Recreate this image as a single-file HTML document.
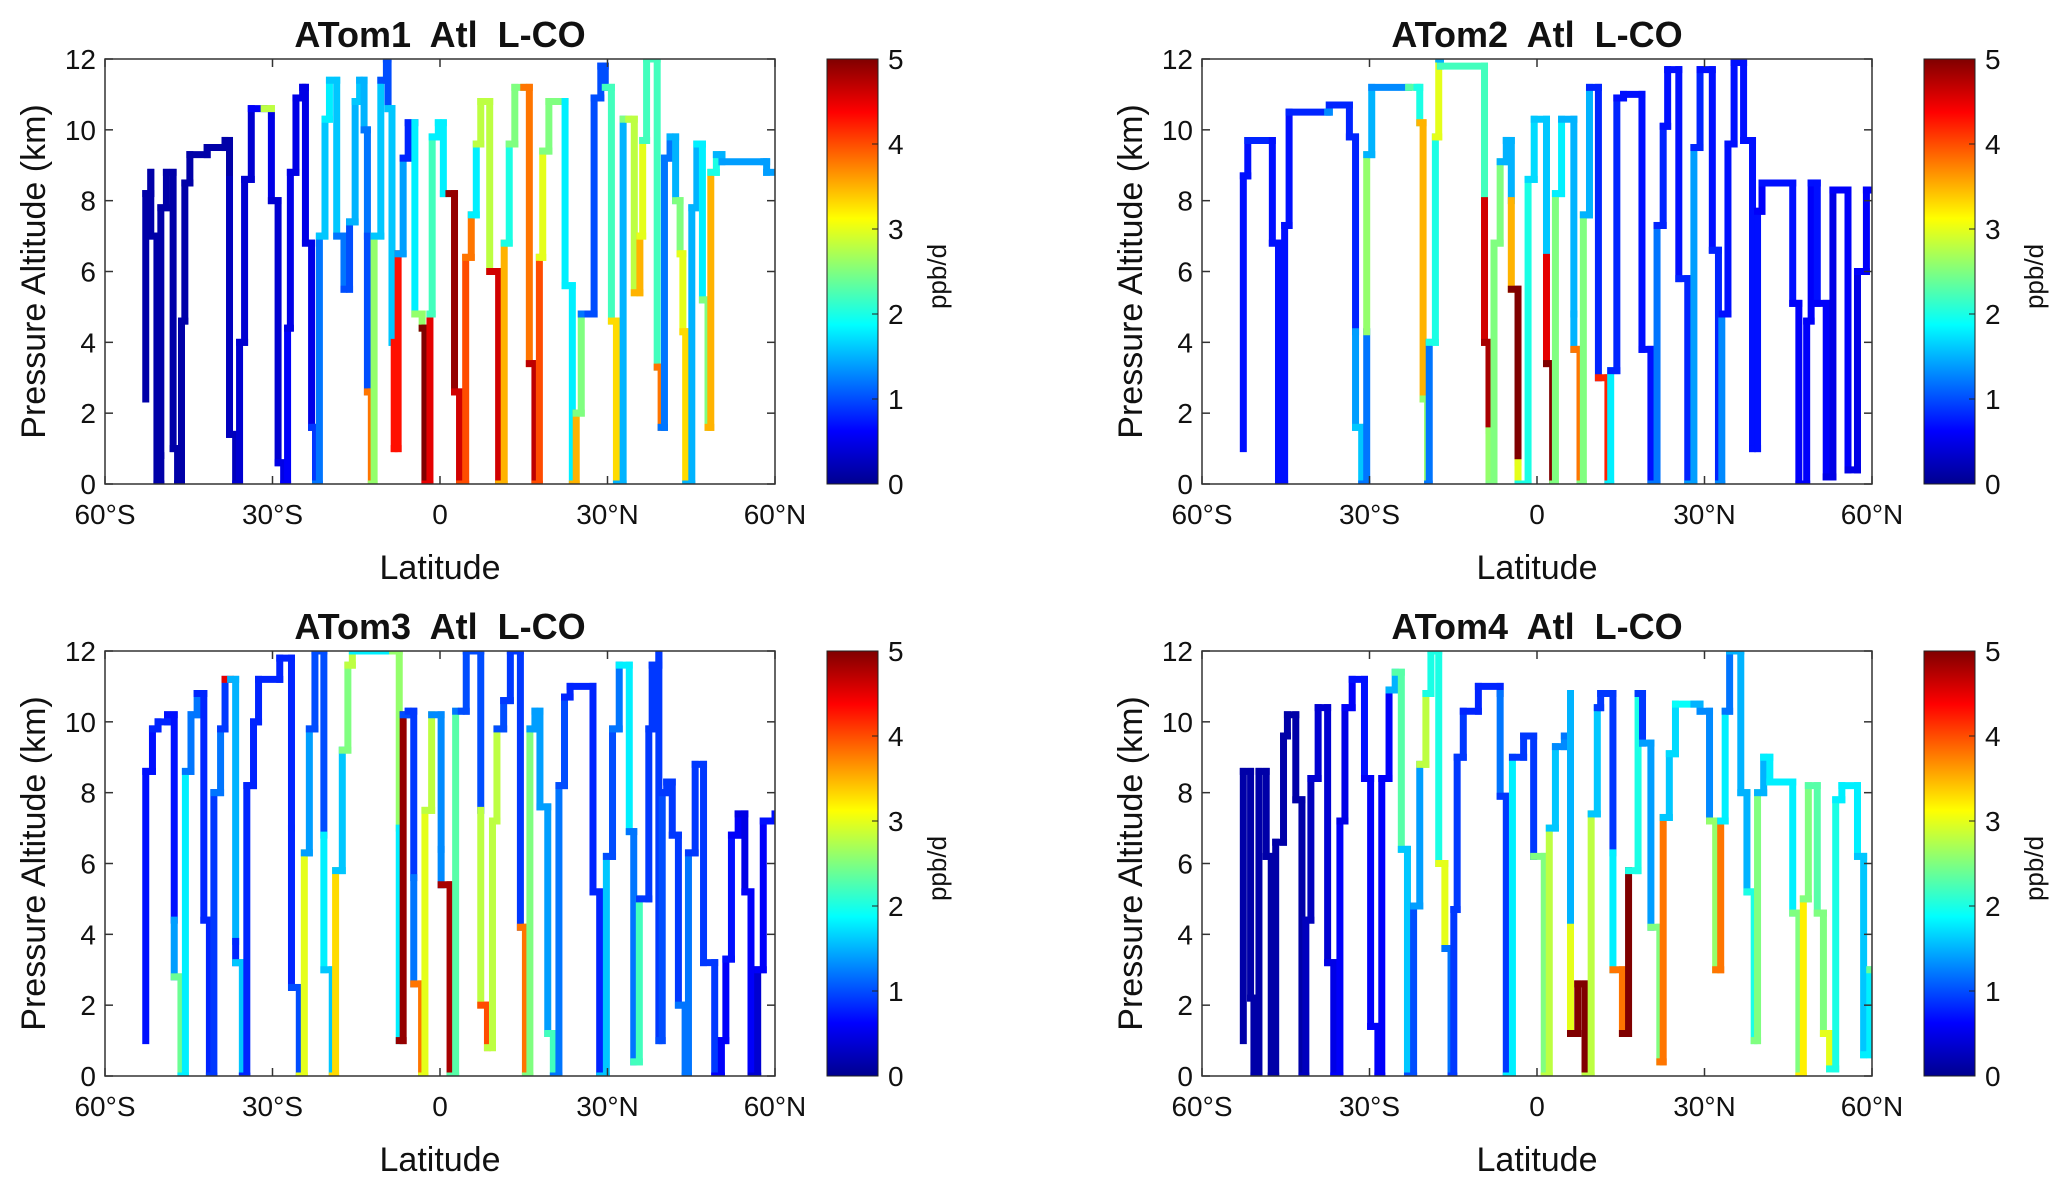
<!DOCTYPE html>
<html><head><meta charset="utf-8"><title>ATom L-CO</title>
<style>html,body{margin:0;padding:0;background:#fff}svg{display:block}text{font-family:"Liberation Sans",Arial,sans-serif;fill:#111}.ttl{white-space:pre}</style>
</head><body>
<svg id="fig" width="2067" height="1184" viewBox="0 0 2067 1184" xmlns="http://www.w3.org/2000/svg">
<defs>
<linearGradient id="jet" x1="0" y1="1" x2="0" y2="0">
<stop offset="0" stop-color="#00008f"/><stop offset="0.125" stop-color="#0000ff"/><stop offset="0.375" stop-color="#00ffff"/><stop offset="0.625" stop-color="#ffff00"/><stop offset="0.875" stop-color="#ff0000"/><stop offset="1" stop-color="#800000"/>
</linearGradient>
</defs>
</svg>
<script>
const panelTitles = ["ATom1  Atl  L-CO","ATom2  Atl  L-CO","ATom3  Atl  L-CO","ATom4  Atl  L-CO"];
const xTickVals = [-60,-30,0,30,60];
const xTickLabels = ["60°S","30°S","0","30°N","60°N"];
const yTickVals = [0,2,4,6,8,10,12];
const cbTickVals = [0,1,2,3,4,5];
const p1Path = [[-52.7,2.4,.2],[-52.7,8.2,.2],[-51.8,8.8,.2],[-51.8,7.0,.2],[-50.7,7.0,.2],[-50.7,0,.2],[-50,0.8,.2],[-50,7.8,.2],[-49,8.8,.2],[-47.8,8.8,.2],[-47.8,1.0,.2],[-47,0,.2],
[-46.3,4.6,.2],[-45.7,8.5,.2],[-44.8,9.3,.2],[-41.7,9.5,.2],[-38.5,9.7,.2],[-37.7,8.6,.3],[-37.7,1.4,.3],[-36.6,0,.4],
[-35.9,4.0,.4],[-35,8.6,.4],[-33.8,10.6,.6],[-31.5,10.6,2.8],[-30.2,10.4,.5],[-30.2,8,.4],[-29,0.6,.5],[-28,0,.6],
[-27.3,4.4,.5],[-26.8,8.8,.5],[-25.8,10.9,.5],[-24.6,11.2,.5],[-24.1,6.8,.5],[-23,1.6,.9],[-22.3,0,1.2],
[-21.6,7.0,1.6],[-20.6,10.3,1.8],[-19.8,11.4,1.6],[-18.5,7.0,1.2],[-17.2,5.5,1.0],[-16.2,7.4,1.5],[-15.2,10.8,1.6],[-14.4,11.4,1.5],[-13.6,10,1.2],[-13,7,1.0],[-13,2.6,3.8],[-12.3,0,2.6],
[-11.8,7.0,1.6],[-10.6,11.4,1.0],[-9.6,12,1.0],[-9.3,10.6,1.6],[-8.6,4.0,1.6],[-8.2,4.0,4.3],[-8.2,1.0,4.3],[-7.5,6.5,1.4],[-6.6,9.2,0.8],[-5.7,10.2,0.8],[-4.5,10.2,1.8],[-4.5,4.8,2.6],[-3.2,4.4,5],[-2.7,0,4.5],
[-1.8,4.8,2.2],[-1.4,9.8,1.8],[-0.3,10.2,1.8],[0.6,8.2,1.8],[1.6,8.2,4.9],[2.6,2.6,4.6],[3.5,0,4],
[4.6,6.4,3.8],[5.6,7.6,1.8],[6.5,9.6,2.8],[7.3,10.8,2.8],[8.6,10.8,2.8],[8.9,6,4.6],[10.5,6,4.6],[10.5,0,3.5],
[11.5,6.8,2.0],[12.4,9.6,2.5],[13.4,11.2,2.5],[15,11.2,3.8],[16,3.4,4.7],[17,0,4.0],[17.8,6.4,3.0],[18.4,9.4,2.5],[19.5,10.8,2.5],[22.4,10.8,1.8],[22.4,5.6,1.8],[23.7,0,3.5],[24.4,2,2.5],[25.3,4.8,1.2],[26.5,4.8,1.0],[27.6,10.9,1.0],[28.8,11.8,1.0],[29.6,11.2,2.2],[30.7,4.6,3.3],[31.6,0,1.5],[32.8,10.3,2.5],[33.8,10.3,2.8],[34.8,5.4,3.5],[35.8,7,3.0],[36.3,9.7,2.2],[37,12,2.2],[38.5,12,2.2],[38.9,3.3,3.8],[39.6,1.6,1.2],[40.2,9.2,1.2],[41.2,9.8,1.5],[42.2,8,2.5],[43,6.5,3],[43.5,4.3,3.3],[44,0,1.5],[45.1,7.8,1.5],[46,9.6,1.8],[47,5.2,2.5],[48,1.6,3.5],[48.5,8.8,2.0],[49.5,9.3,1.5],[50.5,9.1,1.4],[58,9.1,1.4],[58.5,8.8,1.4],[60,8.8,1.4]];
const p2Path = [[-52.6,1.0,.7],[-52.6,8.7,.7],[-51.8,9.7,.8],[-47.4,9.7,.7],[-47.4,6.8,.7],[-46.3,0,.7],[-45.2,7.3,.7],[-44.4,10.5,.8],[-37.5,10.5,1.3],[-37.2,10.7,.8],[-33.6,10.7,.8],[-33.6,9.8,.8],[-32.5,4.3,1.4],[-32.5,1.6,1.6],[-31.4,0,1.2],
[-30.5,4.3,2.6],[-30.5,9.3,1.5],[-29.6,11.2,1.3],[-23,11.2,2.3],[-21.5,11.2,2.0],[-21,10.2,3.5],[-20.4,2.4,2.6],[-19.6,0,1.2],[-19.3,4,2.0],[-18.2,9.8,3.0],[-17.6,12,1.5],[-17.3,11.8,2.2],[-9.4,8,4.6],[-9.4,4.0,4.8],[-8.6,1.5,2.6],[-8.6,0,2.5],[-7.7,6.8,2.5],[-6.6,9.1,1.5],[-5.5,9.7,1.5],[-4.6,8,3.5],[-4.6,5.5,5],[-3.4,0.6,3],[-3.4,0,2],
[-1.6,8.6,1.7],[-0.5,10.3,1.6],[1.7,6.4,4.5],[1.7,3.4,5],[2.8,0,2.5],[3.3,8.2,1.8],[4.4,10.3,1.5],[6.6,4.8,1.5],[6.6,3.8,3.8],[7.7,0,2.5],[8.3,7.6,1.5],[9.4,11.2,0.8],[11,3.0,4.2],[12.7,0,1.8],[13.2,3.2,0.8],[14.3,10.9,0.7],[15.5,11,0.7],[18.8,3.8,0.7],[20.4,0,1.2],[21.5,7.3,0.8],[22.6,10.1,0.7],[23.4,11.7,0.7],[25.4,5.8,0.8],[27,0,1.4],[28.1,9.5,0.8],[29.2,11.7,0.7],[31.4,6.6,0.8],[32.5,0,1.3],[33.1,4.8,0.7],[34.2,9.6,0.7],[35.3,11.9,0.7],[37,9.7,0.7],[38.6,1.0,0.7],[39.5,7.7,0.6],[40.3,8.5,0.7],[45.8,5.1,0.6],[46.9,0,0.6],[48.3,4.6,0.6],[49.1,8.5,0.7],[50.2,5.1,0.6],[51.8,0.2,0.5],[53,8.3,0.6],[55.7,0.4,0.5],[57.4,6,0.6],[59,8.3,0.6],[60,8.3,0.6]];
const p3Path = [[-52.7,1.0,.7],[-52.7,8.6,.7],[-51.5,9.8,.8],[-50.5,10,.8],[-48.8,10.2,.7],[-47.6,4.4,1.4],[-47.6,2.8,2.4],[-46.4,0,1.8],[-45.6,8.6,1.2],[-44.6,10.2,1.2],[-43.5,10.8,.8],[-42.3,4.4,.8],[-41.3,0,.9],[-40.5,8,1.2],[-39.3,9.8,.9],[-38.5,11.2,4.5],[-37.5,11.2,1.5],[-36.6,3.8,.8],[-36.6,3.2,1.6],[-35.4,0,.8],[-34.6,8.2,.8],[-33.4,10,.8],[-32.5,11.2,.8],[-28.7,11.8,.8],[-26.6,7,.8],[-26.6,2.5,1.0],[-25.2,0,3.0],[-24.3,6.3,1.4],[-23.4,9.8,1.0],[-22.4,12,1.0],[-20.8,6.8,1.8],[-20.8,3,1.6],[-19.3,0,3.3],[-18.7,5.8,1.6],[-17.5,9.2,2.5],[-16.5,11.6,2.8],[-15.7,12,1.8],[-8.5,12,2.6],[-7.3,7,1.8],[-7.3,1.0,4.9],[-6.6,10.2,1.0],[-5.7,10.3,0.9],[-4.7,5.6,1.2],[-4.7,2.6,3.8],[-3.3,0,3.0],[-2.7,7.5,2.8],[-1.5,10.2,1.3],[0.2,6.4,1.3],[0.2,5.4,4.8],[1.8,0,2.3],[2.8,10.3,1.2],[3.8,10.3,1.0],[4.7,12,1.0],[7.3,7.5,2.8],[7.3,2,4.0],[8.5,0.8,2.8],[9.4,7.2,2.8],[10.2,9.8,1.0],[11.4,10.6,0.9],[12.6,12,0.9],[14.4,4.2,3.8],[15.3,0,2.5],[16.1,9.8,1.4],[17,10.3,1.4],[17.9,7.6,1.4],[19.3,1.2,2.2],[20.3,0,1.2],[21.3,8.2,1.0],[22.3,10.7,0.8],[23.3,11,0.8],[27.4,5.2,0.8],[28.6,0,1.6],[29.8,6.2,1.0],[30.9,9.8,1.2],[32.1,11.6,1.8],[33.9,6.9,1.2],[34.7,0.4,2.2],[35.7,5,0.9],[37.4,9.8,0.9],[38,11.6,0.9],[39.2,12,0.9],[39.2,1.0,1.0],[39.8,8.0,0.9],[40.6,8.3,0.9],[41.6,6.8,0.9],[42.7,2,1.2],[43.9,0,1.2],[44.5,6.3,0.9],[45.7,8.8,0.9],[47.2,3.2,0.9],[49.2,0,0.6],[50.4,1.0,0.6],[51.2,3.3,0.7],[52.2,6.8,0.6],[53.4,7.4,0.5],[54.6,5.2,0.6],[55.7,0,0.4],[56.9,3.0,0.6],[57.9,7.2,0.7],[60,7.4,0.7]];
const p4Path = [[-52.6,1.0,.2],[-52.6,8.6,.2],[-51.3,2.2,.2],[-50.7,0,.2],[-49.8,8.6,.2],[-48.5,6.2,.2],[-47.6,0,.2],[-46.8,6.6,.2],[-45.4,9.6,.2],[-44.7,10.2,.2],[-43.2,7.8,.2],[-42.1,0,.3],[-41.4,4.4,.3],[-40.5,8.4,.4],[-39.2,10.4,.4],[-37.5,3.2,.5],[-36.4,0,.6],[-35.3,7.2,.5],[-34.4,10.4,.6],[-33.1,11.2,.7],[-30.9,8.4,.6],[-29.8,1.4,.6],[-28.5,0,.6],[-27.8,8.4,.6],[-26.5,10.9,1.5],[-25.4,11.4,2.3],[-24.3,6.4,1.6],[-23.2,0,1.0],[-22.1,4.8,1.4],[-21,8.8,2.8],[-19.9,10.8,2.0],[-19,12,2.0],[-17.6,6.0,3],[-16.5,3.6,1.2],[-15.4,0,0.9],[-14.9,4.7,0.9],[-14.3,9.0,0.9],[-13.2,10.3,0.8],[-10.5,11.0,0.8],[-6.6,10.8,1.2],[-6.6,7.9,0.9],[-5.5,0,1.8],[-4.4,9.0,0.9],[-2.4,9.6,0.9],[-0.6,6.2,2.5],[1.3,0,2.8],[2.2,7.0,1.6],[3.3,9.3,1.3],[4.9,9.6,1.2],[6,10.8,1.5],[6,4.2,3],[6,1.2,5],[7.3,2.6,5],[8.6,0,2.8],[9.7,7.4,1.6],[10.8,10.4,0.9],[11.4,10.8,0.9],[13.6,6.3,1.8],[13.6,3,3.8],[15.3,1.2,5],[16.4,5.8,2],[18.1,10.8,0.9],[18.9,9.4,1.4],[20.4,4.2,2.5],[22,0.4,3.8],[22.6,7.3,1.6],[23.7,9.1,1.7],[24.8,10.5,1.9],[28.1,10.5,1.5],[29.2,10.3,1.3],[30.9,7.2,2.6],[32,3.0,3.8],[32.9,7.2,1.8],[33.7,10.3,1.2],[34.5,12,1.5],[36.5,8.0,1.5],[37.6,5.2,2.0],[38.9,1.0,2.5],[39.5,8.0,1.5],[40.6,9.0,1.8],[41.7,8.3,1.8],[45.8,4.6,2.5],[46.9,0,3.2],[47.7,5.0,2.5],[48.6,8.2,2.3],[50.2,4.6,2.5],[51.3,1.2,3],[52.4,0.2,2],[53.5,7.8,1.8],[54.6,8.2,1.8],[57.4,6.2,1.6],[58.5,0.6,1.8],[59.6,3.0,2.4],[60,3.0,2.4]];
const allPaths = [p1Path,p2Path,p3Path,p4Path];

const NS = "http://www.w3.org/2000/svg";
const svg = document.getElementById('fig');
function mk(tag, attrs, parent){const e=document.createElementNS(NS,tag);for(const k in attrs)e.setAttribute(k,attrs[k]);(parent||svg).appendChild(e);return e;}
function jet(v){const t=Math.max(0,Math.min(1,v/5));const c=x=>Math.round(255*Math.max(0,Math.min(1,1.5-Math.abs(x))));return `rgb(${c(4*t-3)},${c(4*t-2)},${c(4*t-1)})`;}
const offX=[0,1097,0,1097], offY=[0,0,592,592];
const L0=105,T0=59,W=670,H=425,CBX0=827,CBW=51;
for(let p=0;p<4;p++){
  const L=L0+offX[p],T=T0+offY[p],B=T+H,cx=CBX0+offX[p];
  const xs=lat=>L+(lat+60)/120*W, ys=a=>B-a/12*H;
  const g=mk('g',{});
  
  
  const clip=mk('clipPath',{id:'clip'+p},g);
  mk('rect',{x:L,y:T,width:W,height:H},clip);
  const marks=mk('g',{'clip-path':'url(#clip'+p+')'},g);
  
  
  const path=allPaths[p];
  for(let i=0;i<path.length-1;i++){
    const [la1,a1,v]=path[i],[la2,a2]=path[i+1];
    const col=jet(v);
    if(la1!==la2){const h=mk('line',{x1:xs(la1),y1:ys(a1),x2:xs(la2),y2:ys(a1),stroke:col,'stroke-width':7,'stroke-linecap':'square'},marks);
      }
    if(a1!==a2){const vl=mk('line',{x1:xs(la2),y1:ys(a1),x2:xs(la2),y2:ys(a2),stroke:col,'stroke-width':7,'stroke-linecap':'square'},marks);
      }
  }
  const frame=mk('rect',{x:L,y:T,width:W,height:H,fill:'none',stroke:'#333','stroke-width':1.5},g);
  
  xTickVals.forEach((v,i)=>{const x=xs(v);
    mk('line',{x1:x,y1:B,x2:x,y2:B-8,stroke:'#333','stroke-width':1.5},g);
    mk('line',{x1:x,y1:T,x2:x,y2:T+8,stroke:'#333','stroke-width':1.5},g);
    const t=mk('text',{x:x,y:B+40,'font-size':28,'text-anchor':'middle'},g);t.textContent=xTickLabels[i];
    });
  yTickVals.forEach(v=>{const y=ys(v);
    mk('line',{x1:L,y1:y,x2:L+8,y2:y,stroke:'#333','stroke-width':1.5},g);
    mk('line',{x1:L+W,y1:y,x2:L+W-8,y2:y,stroke:'#333','stroke-width':1.5},g);
    const t=mk('text',{x:L-9,y:y+10,'font-size':28,'text-anchor':'end'},g);t.textContent=String(v);
    });
  const tt=mk('text',{x:L+W/2,y:T-12,'font-size':36,'font-weight':'bold','text-anchor':'middle','class':'ttl'},g);tt.textContent=panelTitles[p];
  
  const xl=mk('text',{x:L+W/2,y:B+95,'font-size':34,'text-anchor':'middle'},g);xl.textContent='Latitude';
  
  const yl=mk('text',{x:0,y:0,'font-size':34,'text-anchor':'middle',transform:`translate(${L-60},${T+H/2}) rotate(-90)`},g);yl.textContent='Pressure Altitude (km)';
  
  const cb=mk('rect',{x:cx,y:T,width:CBW,height:H,fill:'url(#jet)',stroke:'#222','stroke-width':1},g);
  
  cbTickVals.forEach(v=>{const y=B-v/5*H;
    mk('line',{x1:cx+CBW,y1:y,x2:cx+CBW-6,y2:y,stroke:'#222','stroke-width':1},g);
    const t=mk('text',{x:cx+CBW+10,y:y+10,'font-size':28},g);t.textContent=String(v);
    });
  const cl=mk('text',{x:0,y:0,'font-size':26,'text-anchor':'middle',transform:`translate(${cx+CBW+68},${T+H/2+5}) rotate(-90)`},g);cl.textContent='ppb/d';
  
}
</script>
</body></html>
